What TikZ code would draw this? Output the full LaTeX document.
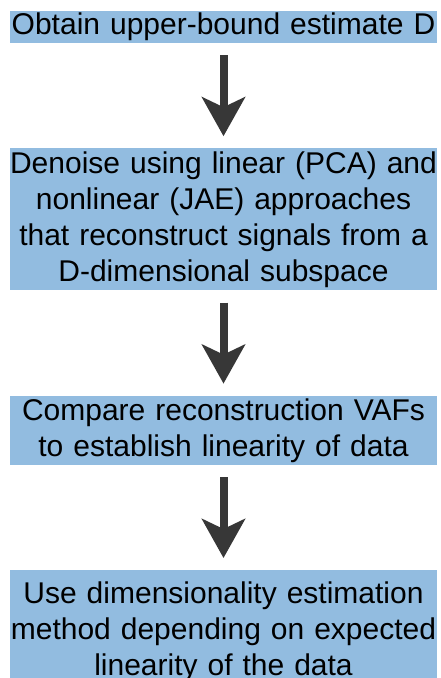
\documentclass[tikz,border=0pt]{standalone}
\usepackage{fontspec}
\setmainfont{Liberation Sans}
\usetikzlibrary{positioning}
\usetikzlibrary{arrows.meta}
\definecolor{boxblue}{RGB}{146,188,224}
\definecolor{arrowgrey}{RGB}{55,55,55}
\tikzstyle{stepbox}=[fill=boxblue,inner sep=0pt,text width=427pt,align=center,font=\fontsize{30}{36}\selectfont]
\tikzstyle{flow}=[draw=arrowgrey,line width=8pt,shorten <=12pt,shorten >=12pt,-{Stealth[length=39pt,width=43pt,inset=10pt]}]

\begin{document}
\begin{tikzpicture}[node distance=105pt,auto]
  \useasboundingbox (0,0) rectangle (441pt,-678pt);
  \node [stepbox,minimum height=32pt] (bound) at (223.5pt,-27pt) {Obtain upper-bound estimate D};
  \node [stepbox,minimum height=142pt] (denoise) [below=of bound] {Denoise using linear (PCA) and\\ nonlinear (JAE) approaches\\ that reconstruct signals from a\\ D-dimensional subspace};
  \node [stepbox,minimum height=69pt] (compare) [below=of denoise] {Compare reconstruction VAFs\\ to establish linearity of data};
  \node [stepbox,minimum height=123pt] (estimate) [below=of compare] {Use dimensionality estimation\\ method depending on expected\\ linearity of the data};
  \draw [flow] (bound) -- (denoise);
  \draw [flow] (denoise) -- (compare);
  \draw [flow] (compare) -- (estimate);
\end{tikzpicture}
\end{document}
